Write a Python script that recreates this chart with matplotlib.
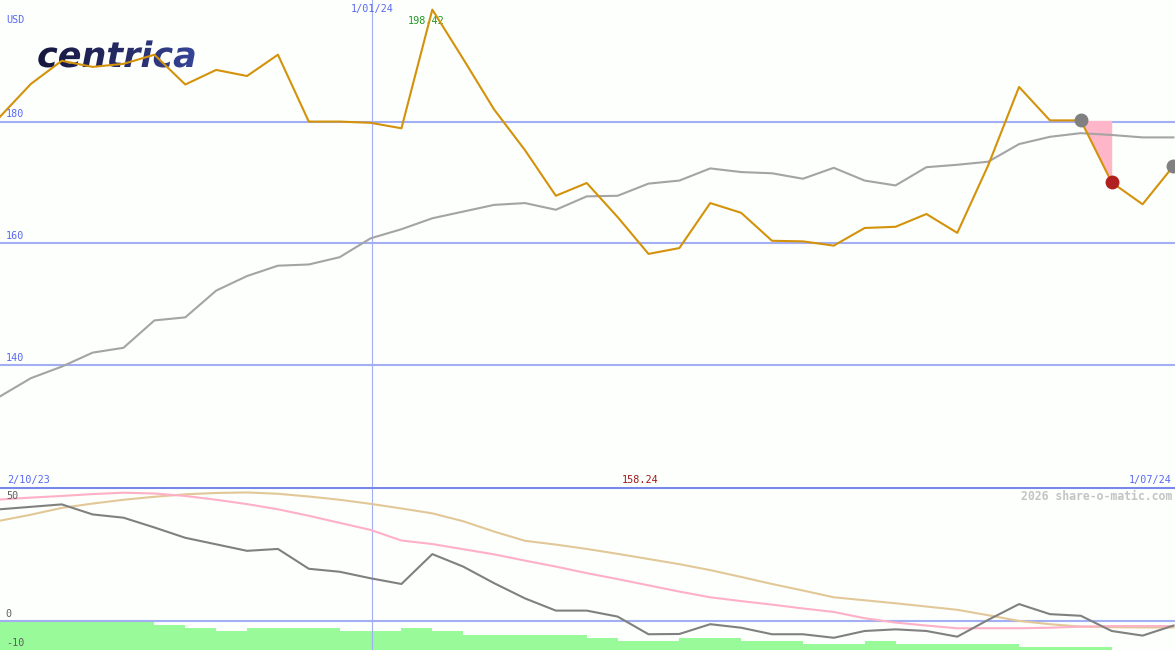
import matplotlib
matplotlib.use("Agg")
import matplotlib.pyplot as plt
import matplotlib.transforms as mtransforms
from matplotlib.textpath import TextPath
from matplotlib.font_manager import FontProperties
from matplotlib.patches import PathPatch
from matplotlib.colors import LinearSegmentedColormap
import numpy as np

# ---------------- data ----------------
price = [180.8, 186.2, 190.0, 189.0, 189.5, 191.0, 186.1, 188.5, 187.5, 191.0,
         180.0, 180.0, 179.8, 178.9, 198.42, 190.3, 182.0, 175.3, 167.8, 169.9,
         164.3, 158.24, 159.2, 166.6, 165.0, 160.4, 160.3, 159.6, 162.5, 162.7,
         164.8, 161.7, 172.8, 185.7, 180.2, 180.2, 170.0, 166.4, 172.7]
avg = [134.8, 137.8, 139.7, 142.0, 142.8, 147.3, 147.8, 152.2, 154.6, 156.3,
       156.5, 157.7, 160.8, 162.3, 164.1, 165.2, 166.3, 166.6, 165.5, 167.7,
       167.8, 169.8, 170.3, 172.3, 171.7, 171.5, 170.6, 172.4, 170.3, 169.5,
       172.5, 172.9, 173.4, 176.3, 177.5, 178.1, 177.8, 177.4, 177.4]
osc = [41.0, 41.9, 42.8, 39.1, 37.9, 34.3, 30.5, 28.1, 25.7, 26.4,
       19.1, 18.0, 15.6, 13.5, 24.5, 19.9, 13.8, 8.2, 3.7, 3.7,
       1.5, -5.0, -4.9, -1.3, -2.6, -5.0, -5.0, -6.3, -3.8, -3.2,
       -3.8, -5.9, 0.3, 6.1, 2.4, 1.8, -3.8, -5.5, -1.8]
tan_line = [36.8, 39.0, 41.5, 43.1, 44.5, 45.6, 46.5, 47.0, 47.2, 46.7,
            45.7, 44.5, 43.0, 41.3, 39.5, 36.6, 32.8, 29.4, 28.0, 26.4,
            24.6, 22.7, 20.8, 18.6, 16.1, 13.5, 11.1, 8.6, 7.5, 6.4,
            5.2, 4.0, 2.0, -0.1, -1.3, -2.2, -2.4, -2.5, -2.5]
pink_line = [44.6, 45.3, 45.9, 46.6, 47.1, 46.8, 45.9, 44.5, 42.9, 41.0,
             38.6, 36.0, 33.4, 29.5, 28.2, 26.3, 24.4, 22.1, 19.9, 17.5,
             15.3, 13.0, 10.7, 8.6, 7.2, 5.9, 4.5, 3.2, 0.9, -0.7,
             -1.8, -2.8, -2.8, -2.8, -2.6, -2.2, -2.0, -2.0, -2.0]
hist = [-0.4, -0.4, -0.4, -0.4, -0.4, -1.6, -2.6, -3.8, -2.6, -2.6,
        -2.6, -3.8, -3.8, -2.6, -3.8, -5.3, -5.3, -5.3, -5.3, -6.2,
        -7.5, -7.5, -6.2, -6.2, -7.5, -7.5, -8.6, -8.6, -7.5, -8.6,
        -8.6, -8.6, -8.6, -9.8, -9.8, -9.8, -12.0, -12.0]
main_ticks = [140, 160, 180]
date_labels = ["2/10/23", "1/01/24", "1/07/24"]
jan_index = 12.05
max_label = "198.42"
min_label = "158.24"

x = np.arange(len(price))

BG = "#fcfffc"
GRID = "#a4aef2"
SEP = "#7888e8"
BLUE_TXT = "#5a68f2"
MONO = "DejaVu Sans Mono"
LW = 1.5

fig = plt.figure(figsize=(11.75, 6.5), dpi=100, facecolor=BG)
W, H = 1175.0, 650.0

ax = fig.add_axes([0, (H - 487) / H, 1, 487 / H])
ax2 = fig.add_axes([0, 0, 1, (H - 487) / H])
for a in (ax, ax2):
    a.set_facecolor(BG)
    a.set_xticks([])
    a.set_yticks([])
    for s in a.spines.values():
        s.set_visible(False)

# ---------------- main panel ----------------
for t in main_ticks:
    ax.axhline(t, color=GRID, lw=LW, zorder=1)
ax.axvline(jan_index, color=GRID, lw=0.8, zorder=1)
trans = mtransforms.blended_transform_factory(ax.transAxes, ax.transData)
for t in main_ticks:
    ax.text(0.005, t + 0.35, str(t), transform=trans, ha="left", va="bottom",
            fontsize=7.3, family=MONO, color=BLUE_TXT)

# logo: gradient-filled text
fp = FontProperties(family="DejaVu Sans", weight="bold", style="italic")
tp = TextPath((0, 0), "centrica", prop=fp, size=35)
logo_patch = PathPatch(tp, transform=mtransforms.Affine2D().translate(37, H - 67),
                       facecolor="none", edgecolor="none")
grad = np.linspace(0, 1, 256)[None, :] * np.ones((32, 1))
cmap = LinearSegmentedColormap.from_list("logo", ["#15163a", "#262a64", "#3a4aa2"])
logo_ax = fig.add_axes([30 / W, (H - 80) / H, 180 / W, 48 / H], zorder=0.5)
logo_ax.set_axis_off()
logo_ax.patch.set_alpha(0)
im = logo_ax.imshow(grad, extent=[0, 1, 0, 1], aspect="auto", cmap=cmap,
                    interpolation="bilinear")
logo_ax.add_artist(logo_patch)
im.set_clip_path(logo_patch)
logo_ax.set_xlim(0, 1)
logo_ax.set_ylim(0, 1)

ax.set_zorder(1)
ax.patch.set_alpha(0)
ax.set_xlim(0, 38.05)
ax.set_ylim(119.9, 200.0)

ax.fill_between(x[35:37], price[35:37], price[35], color="#ffb6c8", lw=0, zorder=2)
ax.plot(x, avg, color="#a4a4a4", lw=LW, zorder=3)
ax.plot(x, price, color="#d4920a", lw=LW, zorder=4)
ax.plot([x[35], x[38]], [price[35], price[38]], "o", color="#808080",
        markersize=9, zorder=5)
ax.plot([x[36]], [price[36]], "o", color="#b02020", markersize=9, zorder=5)

ax.text(6 / W, 1 - 20 / 487, "USD", transform=ax.transAxes, ha="left",
        va="center", fontsize=7.3, family=MONO, color=BLUE_TXT)
ax.text(jan_index, 1 - 9 / 487, date_labels[1],
        transform=mtransforms.blended_transform_factory(ax.transData, ax.transAxes),
        ha="center", va="center", fontsize=7.3, family=MONO, color=BLUE_TXT)
ax.text(408 / W, 1 - 21 / 487, max_label, transform=ax.transAxes, ha="left",
        va="center", fontsize=7.3, family=MONO, color="#229a22")
ax.text(7 / W, 1 - 480 / 487, date_labels[0], transform=ax.transAxes, ha="left",
        va="center", fontsize=7.3, family=MONO, color=BLUE_TXT)
ax.text(640 / W, 1 - 480 / 487, min_label, transform=ax.transAxes, ha="center",
        va="center", fontsize=7.3, family=MONO, color="#a01818")
ax.text(1172 / W, 1 - 480 / 487, date_labels[2], transform=ax.transAxes,
        ha="right", va="center", fontsize=7.3, family=MONO, color=BLUE_TXT)

# ---------------- lower panel ----------------
ax2.set_xlim(0, 38.05)
ax2.set_ylim(-10.8, 49.2)
bottom = -13.0
ax2.bar(np.arange(len(hist)), np.array(hist) - bottom, bottom=bottom, width=1.0,
        align="edge", color="#98fa98", lw=0, zorder=1)
ax2.axhline(0, color=GRID, lw=LW, zorder=2)
ax2.axvline(jan_index, color=GRID, lw=0.8, zorder=2)
ax2.plot(x, tan_line, color="#e2c898", lw=LW, zorder=3)
ax2.plot(x, pink_line, color="#ffb0c6", lw=LW, zorder=3)
ax2.plot(x, osc, color="#808080", lw=LW, zorder=4)
ax2.axhline(49.2, color=SEP, lw=2.2, zorder=5)

ax2.text(6 / W, 1 - 9 / 163, "50", transform=ax2.transAxes, ha="left",
         va="center", fontsize=7.3, family=MONO, color="#606060")
trans2 = mtransforms.blended_transform_factory(ax2.transAxes, ax2.transData)
ax2.text(0.005, 0.5, "0", transform=trans2, ha="left", va="bottom",
         fontsize=7.3, family=MONO, color="#606060")
ax2.text(0.005, -9.9, "-10", transform=trans2, ha="left", va="bottom",
         fontsize=7.3, family=MONO, color="#606060", zorder=6)
ax2.text(1172 / W, 1 - 9 / 163, "2026 share-o-matic.com", transform=ax2.transAxes,
         ha="right", va="center", fontsize=8.3, family=MONO, fontweight="bold",
         color="#c4c4c4")

fig.savefig("out.png", dpi=100, facecolor=BG)
